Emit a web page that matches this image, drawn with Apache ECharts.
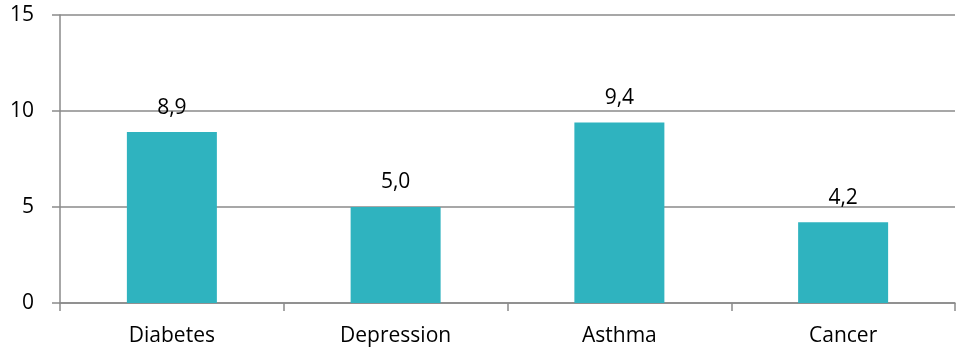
<!DOCTYPE html>
<html>
<head>
<meta charset="utf-8">
<script src="https://cdn.jsdelivr.net/npm/echarts@6/dist/echarts.min.js"></script>
<style>
  html, body { margin: 0; padding: 0; background: #fff; }
  #main { width: 958px; height: 351px; }
</style>
</head>
<body>
<div id="main"></div>
<script>
  // data
  var categories = ['Diabetes', 'Depression', 'Asthma', 'Cancer'];
  var values = [8.9, 5.0, 9.4, 4.2];
  var yTicks = [0, 5, 10, 15];

  var myChart = echarts.init(document.getElementById('main'));
  var axisGray = '#8a8a8a';
  var font = 'Open Sans';

  var option = {
    animation: false,
    grid: { left: 60, right: 3, top: 15, bottom: 48 },
    xAxis: {
      type: 'category',
      data: categories,
      axisLine: { lineStyle: { color: axisGray, width: 1.5 } },
      axisTick: { show: true, length: 8, lineStyle: { color: axisGray, width: 1.5 } },
      axisLabel: { color: '#000', fontFamily: font, fontSize: 21, margin: 23 }
    },
    yAxis: {
      type: 'value',
      min: yTicks[0],
      max: yTicks[yTicks.length - 1],
      interval: 5,
      axisLine: { show: true, lineStyle: { color: axisGray, width: 1.5 } },
      axisTick: { show: true, length: 8, lineStyle: { color: axisGray, width: 1.5 } },
      splitLine: { lineStyle: { color: axisGray, width: 1.5 } },
      axisLabel: { color: '#000', fontFamily: font, fontSize: 21, margin: 26 }
    },
    series: [
      {
        type: 'bar',
        data: values,
        barWidth: 90,
        itemStyle: { color: '#2fb3bf' },
        label: {
          show: true,
          position: 'top',
          distance: 14,
          color: '#000',
          fontFamily: font,
          fontSize: 21,
          formatter: function (p) { return p.value.toFixed(1).replace('.', ','); }
        }
      }
    ]
  };
  myChart.setOption(option);
</script>
</body>
</html>
